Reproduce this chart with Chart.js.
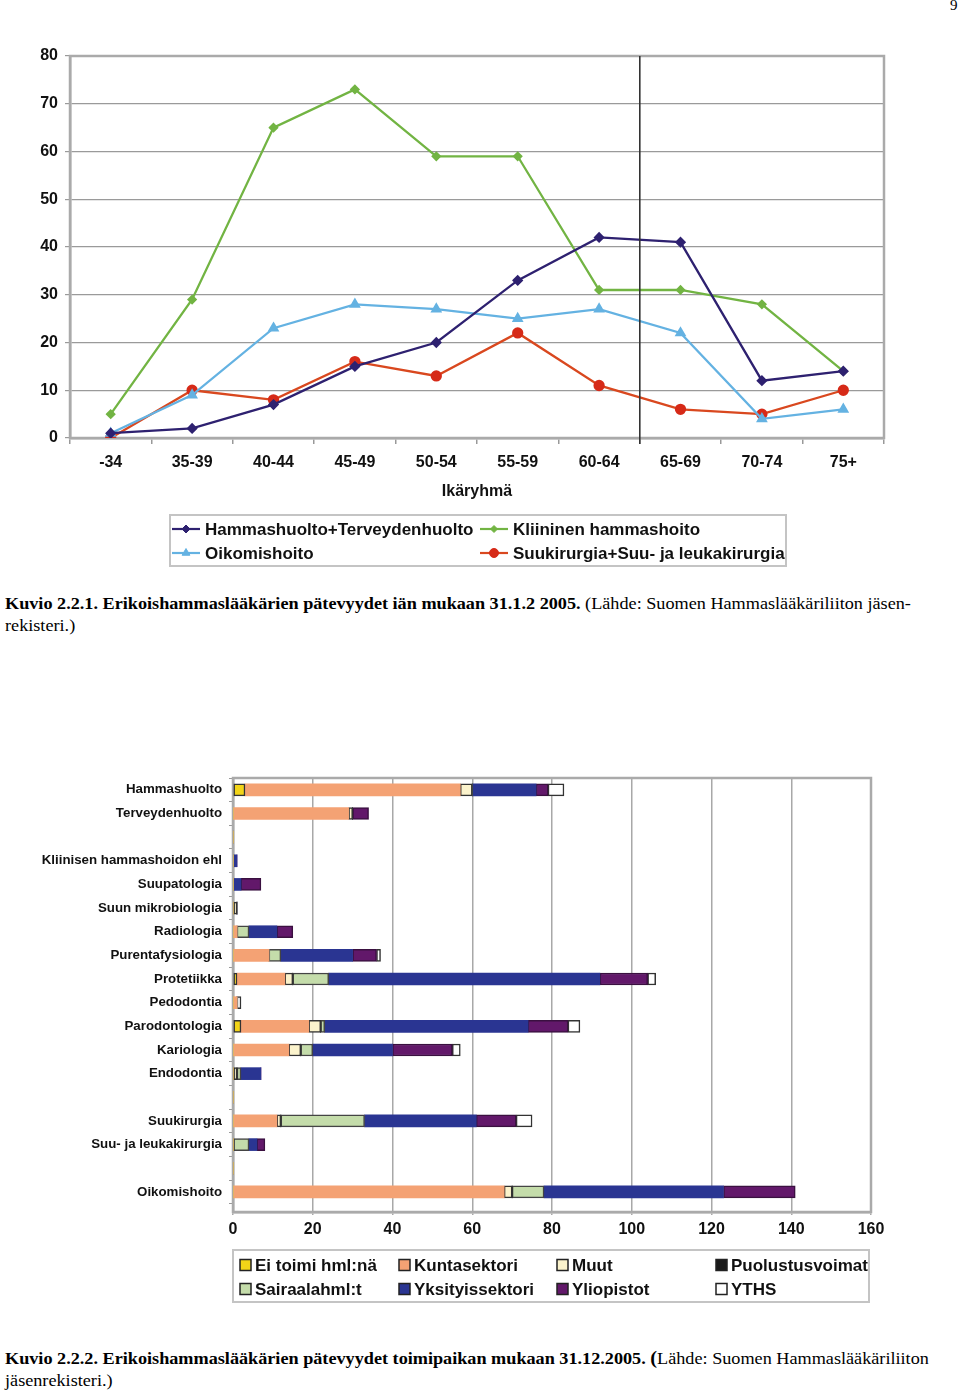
<!DOCTYPE html>
<html><head><meta charset="utf-8">
<script src="https://cdn.jsdelivr.net/npm/chart.js@4/dist/chart.umd.min.js"></script>
<style>
html,body{margin:0;padding:0;background:#fff;}
body{width:960px;height:1393px;overflow:hidden;position:relative}
canvas{position:absolute;left:0}
#c1{top:0}
#c2{top:740px}
.cap{position:absolute;left:5px;font-family:"Liberation Serif","Times New Roman",serif;font-size:17px;line-height:22px;white-space:nowrap;color:#000;transform:scaleX(1.07);transform-origin:0 0}
.pg{position:absolute;left:950px;top:-3px;font-family:"Liberation Serif",serif;font-size:15px}
</style></head><body>
<div class="pg">9</div>
<canvas id="c1" width="960" height="580"></canvas>
<div class="cap" style="top:593px"><b>Kuvio 2.2.1. Erikoishammaslääkärien pätevyydet iän mukaan 31.1.2 2005.</b> (Lähde: Suomen Hammaslääkäriliiton jäsen-<br>rekisteri.)</div>
<canvas id="c2" width="960" height="580"></canvas>
<div class="cap" style="top:1348px"><b>Kuvio 2.2.2. Erikoishammaslääkärien pätevyydet toimipaikan mukaan 31.12.2005.</b> <b style="font-size:19px;line-height:18px">(</b>Lähde: Suomen Hammaslääkäriliiton<br>jäsenrekisteri.)</div>
<script>
// ---- Chart 1 data ----
const ageGroups = ['-34','35-39','40-44','45-49','50-54','55-59','60-64','65-69','70-74','75+'];
const hammasTerveys = [1,2,7,15,20,33,42,41,12,14];
const kliininen = [5,29,65,73,59,59,31,31,28,14];
const oikomis = [1,9,23,28,27,25,27,22,4,6];
const suukirurgia = [0,10,8,16,13,22,11,6,5,10];
const yTicksMax = 80;

// ---- Chart 2 data ----
const specialties = ['Hammashuolto','Terveydenhuolto','','Kliinisen hammashoidon ehl','Suupatologia','Suun mikrobiologia','Radiologia','Purentafysiologia','Protetiikka','Pedodontia','Parodontologia','Kariologia','Endodontia',' ','Suukirurgia','Suu- ja leukakirurgia','  ','Oikomishoito'];
const eiToimi     = [3,0,0,0,0,0,0,0,1,0,2,0,0,0,0,0,0,0];
const kunta       = [54,29,0,0,0,0,1,9,12,1,17,14,0,0,11,0,0,68];
const muut        = [3,1,0,0,0,1,0,0,2,0,3,3,1,0,1,0,0,2];
const puolustus   = [0,0,0,0,0,0,0,0,0,0,0,0,0,0,0,0,0,0];
const sairaala    = [0,0,0,0,0,0,3,3,9,0,1,3,1,0,21,4,0,8];
const yksityis    = [16,0,0,1,2,0,7,18,68,0,51,20,5,0,28,2,0,45];
const yliopistot  = [3,4,0,0,5,0,4,6,12,0,10,15,0,0,10,2,0,18];
const yths        = [4,0,0,0,0,0,0,1,2,1,3,2,0,0,4,0,0,0];
const xMax2 = 160;

const FF = '"Liberation Sans", Arial, sans-serif';
const TXT = '#111';

const framePlugin = {
  id:'frame',
  beforeDatasetsDraw(chart, args, o){
    const a = chart.chartArea, c = chart.ctx;
    c.save(); c.strokeStyle = o.color || '#aaa'; c.lineWidth = o.width || 2.5;
    c.strokeRect(a.left, a.top, a.right - a.left, a.bottom - a.top);
    c.restore();
  }
};
const separatorPlugin = {
  id:'separator',
  afterDatasetsDraw(chart, args, o){
    if (o.after == null) return;
    const xs = chart.scales.x, c = chart.ctx, a = chart.chartArea;
    const x = (xs.getPixelForValue(o.after) + xs.getPixelForValue(o.after + 1)) / 2;
    c.save(); c.strokeStyle = '#333'; c.lineWidth = 1.6;
    c.beginPath(); c.moveTo(x, a.top); c.lineTo(x, a.bottom + 6); c.stroke(); c.restore();
  }
};
const gridLegend = {
  id:'gridLegend',
  afterDraw(chart, args, o){
    if (!o.cols) return;
    const c = chart.ctx;
    c.save();
    const [l,t,r,b] = o.frame;
    c.strokeStyle = '#c4c4c4'; c.lineWidth = 2; c.strokeRect(l,t,r-l,b-t);
    c.font = o.font; c.textBaseline = 'middle'; c.textAlign = 'left';
    chart.data.datasets.forEach((ds, i) => {
      const col = i % o.cols.length, row = Math.floor(i / o.cols.length);
      const x = o.cols[col], y = o.rows[row];
      if (o.kind === 'line') {
        c.strokeStyle = ds.borderColor; c.lineWidth = 2.2;
        c.beginPath(); c.moveTo(x, y); c.lineTo(x + 28, y); c.stroke();
        c.fillStyle = ds.pointBackgroundColor; c.strokeStyle = ds.pointBorderColor; c.lineWidth = 1;
        Chart.helpers.drawPoint(c, {pointStyle: ds.pointStyle, radius: ds.pointRadius, borderWidth: 1, rotation: 0}, x + 14, y);
        c.fillStyle = TXT;
        c.fillText(ds.label, x + o.textOffset, y + 1);
      } else {
        c.fillStyle = ds.backgroundColor; c.fillRect(x, y - 5.5, 11, 11);
        c.strokeStyle = '#222'; c.lineWidth = 1.5; c.strokeRect(x, y - 5.5, 11, 11);
        c.fillStyle = TXT;
        c.fillText(ds.label, x + o.textOffset, y + 1);
      }
    });
    c.restore();
  }
};

function lineDs(label, data, color, pcolor, style, r){
  return {label, data, borderColor: color, backgroundColor: pcolor, pointBackgroundColor: pcolor,
    pointBorderColor: pcolor, pointStyle: style, pointRadius: r, borderWidth: 2.3, tension: 0};
}

new Chart(document.getElementById('c1'), {
  type:'line',
  data:{labels: ageGroups, datasets:[
    lineDs('Hammashuolto+Terveydenhuolto', hammasTerveys, '#2e2170', '#2e2170', 'rectRot', 4),
    lineDs('Kliininen hammashoito', kliininen, '#72b443', '#72b443', 'rectRot', 3.5),
    lineDs('Oikomishoito', oikomis, '#64b2e2', '#64b2e2', 'triangle', 4.5),
    lineDs('Suukirurgia+Suu- ja leukakirurgia', suukirurgia, '#d9481f', '#d62a18', 'circle', 4.5)
  ]},
  options:{
    responsive:false, animation:false, devicePixelRatio:1,
    layout:{padding:{left:0, top:56, right:76, bottom:72}},
    plugins:{
      legend:{display:false}, tooltip:{enabled:false},
      frame:{color:'#aaa', width:2.5},
      separator:{after:6},
      gridLegend:{kind:'line', frame:[170,515,786,566], cols:[172,480], rows:[529,553], textOffset:33, font:'bold 17px ' + FF}
    },
    scales:{
      x:{offset:true,
        grid:{offset:true, drawOnChartArea:false, tickLength:6, color:'#999', lineWidth:1.5},
        border:{color:'#aaa', width:2.5},
        ticks:{font:{family:FF, size:16, weight:'bold'}, color:TXT, padding:9, autoSkip:false, maxRotation:0},
        title:{display:true, text:'Ikäryhmä', font:{family:FF, size:16, weight:'bold'}, color:TXT, padding:{top:0, bottom:7}},
        afterFit(s){ s.height = 70; }
      },
      y:{min:0, max:yTicksMax,
        ticks:{stepSize:10, font:{family:FF, size:16, weight:'bold'}, color:TXT, padding:7},
        grid:{color:'#9a9a9a', lineWidth:1.2, tickLength:5},
        border:{color:'#aaa', width:2.5},
        afterFit(s){ s.width = 70; }
      }
    }
  },
  plugins:[framePlugin, separatorPlugin, gridLegend]
});

function barDs(label, data, fill, border){
  return {label, data, backgroundColor: fill, borderColor: border || fill,
    borderWidth: ctx => (ctx.raw ? (border ? 1.5 : 0) : 0), borderSkipped:false, barThickness:12};
}

new Chart(document.getElementById('c2'), {
  type:'bar',
  data:{labels: specialties, datasets:[
    barDs('Ei toimi hml:nä', eiToimi, '#f2d418', '#333'),
    barDs('Kuntasektori', kunta, '#f4a274'),
    barDs('Muut', muut, '#fbf3cc', '#333'),
    barDs('Puolustusvoimat', puolustus, '#1a1a1a', '#111'),
    barDs('Sairaalahml:t', sairaala, '#c4dcaa', '#444'),
    barDs('Yksityissektori', yksityis, '#2a3592'),
    barDs('Yliopistot', yliopistot, '#62186a', '#3a1040'),
    barDs('YTHS', yths, '#ffffff', '#333')
  ]},
  options:{
    indexAxis:'y', responsive:false, animation:false, devicePixelRatio:1,
    layout:{padding:{left:0, top:38, right:89, bottom:78}},
    plugins:{
      legend:{display:false}, tooltip:{enabled:false},
      frame:{color:'#aaa', width:2.5},
      gridLegend:{kind:'box', frame:[233,510,869,562], cols:[240,399,557,716], rows:[525,549], textOffset:15, font:'bold 17px ' + FF}
    },
    scales:{
      x:{stacked:true, min:0, max:xMax2,
        ticks:{stepSize:20, font:{family:FF, size:16, weight:'bold'}, color:TXT, padding:5},
        grid:{color:'#a8a8a8', lineWidth:1.5, tickLength:3},
        border:{color:'#aaa', width:2.5},
        afterFit(s){ s.height = 30; }
      },
      y:{stacked:true,
        grid:{offset:true, drawOnChartArea:false, tickLength:4, color:'#999'},
        border:{color:'#aaa', width:2.5},
        ticks:{font:{family:FF, size:13.3, weight:'bold'}, color:TXT, padding:7, autoSkip:false},
        afterFit(s){ s.width = 233; },
        // the reference leaves a little extra room below the last category
        afterBuildTicks(s){ s._valueRange = 18.35; }
      }
    }
  },
  plugins:[framePlugin, gridLegend]
});
</script>
</body></html>
